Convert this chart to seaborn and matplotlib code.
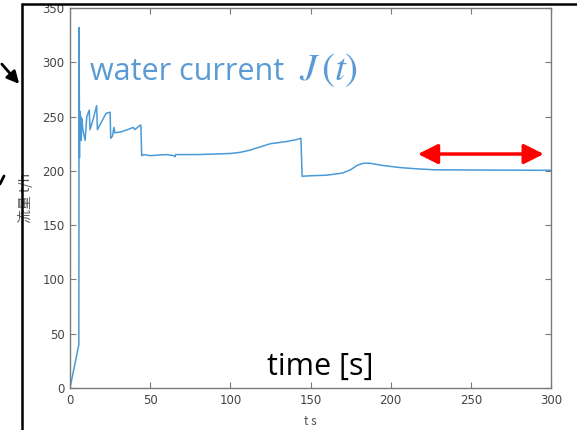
import matplotlib
matplotlib.use("Agg")
import matplotlib.pyplot as plt
from matplotlib.lines import Line2D
import seaborn as sns
import pandas as pd

# ---- data ----
time_s = [0, 5.5, 5.7, 5.9, 6.1, 6.4, 6.7, 7.0, 7.4, 8.0, 9.4, 10.5, 12.0, 12.5,
          14.5, 16.6, 17.1, 22.5, 25.0, 25.4, 26.5, 27.4, 28.0, 32, 36, 39.4,
          40.5, 43.7, 44.2, 44.7, 46, 50, 60, 65, 65.5, 66, 80, 90, 100, 106,
          112, 118.5, 125, 130, 135, 142, 144, 144.8, 150, 160, 170, 175, 179,
          183, 187, 195, 206, 215, 227, 250, 300]
flow_th = [0, 40, 332, 212, 255, 235, 250, 228, 248, 238, 228, 250, 256, 238,
           248, 260, 238, 253, 254, 230, 232, 240, 235, 236, 238, 240, 238, 242,
           242, 214, 215, 214, 215, 214, 213, 215, 215, 215.5, 216, 217, 219,
           222, 225, 226, 227, 229, 230, 195, 195.5, 196, 198, 201, 205, 207,
           207, 205, 203, 202, 201, 200.8, 200.5]
x_ticks = [0, 50, 100, 150, 200, 250, 300]
y_ticks = [0, 50, 100, 150, 200, 250, 300, 350]
steady_range = [217, 295.5]
steady_level = 215.5

df = pd.DataFrame({"t": time_s, "flow": flow_th})

sns.set_style("white")
plt.rcParams["font.family"] = ["DejaVu Sans"]
plt.rcParams["mathtext.fontset"] = "stix"

fig = plt.figure(figsize=(5.77, 4.30), dpi=100)
ax = fig.add_axes([70/577, 42/430, 481/577, 380/430])

sns.lineplot(data=df, x="t", y="flow", ax=ax, color="#4a9ad8", linewidth=1.1)

ax.set_xlim(0, 300)
ax.set_ylim(0, 350)
ax.set_xticks(x_ticks)
ax.set_yticks(y_ticks)
for s in ax.spines.values():
    s.set_visible(True)
    s.set_color("#7a7a7a")
    s.set_linewidth(1.0)
ax.tick_params(direction="in", length=4, width=0.8, color="#7a7a7a",
               labelsize=8.5, labelcolor="#444444", top=True, right=True,
               left=True, bottom=True, pad=4)

ax.set_xlabel("t s", fontsize=8.5, color="#555555",
              family=["Noto Sans CJK JP", "DejaVu Sans"])
ax.xaxis.set_label_coords(0.5, -0.071)
ax.set_ylabel("流量 t/h", fontsize=10, color="#555555",
              family=["Noto Sans CJK JP", "DejaVu Sans"])
ax.yaxis.set_label_coords(-0.077, 0.5)

# red double arrow (steady range)
ax.annotate("", xy=(steady_range[1], steady_level), xytext=(steady_range[0], steady_level),
            arrowprops=dict(arrowstyle="<|-|>", color="#ff0000", lw=2.5,
                            mutation_scale=30, shrinkA=0, shrinkB=0))

# overlay texts
fig.text(90/577, (430-80)/430, "water current", fontsize=22,
         color="#5b9bd5", family="Open Sans", va="baseline", ha="left")
fig.text(299/577, (430-80)/430, "$J\\,(t)$", fontsize=28,
         color="#5b9bd5", va="baseline", ha="left")
fig.text(267/577, (430-375)/430, "time [s]", fontsize=22,
         color="black", family="Open Sans", va="baseline", ha="left")

# black frame of the slide
fx = 22/577
fy = (430-4)/430
fig.add_artist(Line2D([fx, fx], [0, fy], transform=fig.transFigure,
                      color="black", lw=1.8))
fig.add_artist(Line2D([fx, 1], [fy, fy], transform=fig.transFigure,
                      color="black", lw=1.8))

# black arrows on the left
fig.patches.append(matplotlib.patches.FancyArrowPatch(
    (0/577, (430-62)/430), (21/577, (430-86)/430), transform=fig.transFigure,
    arrowstyle="-|>", mutation_scale=18, color="black", lw=2))
fig.add_artist(Line2D([4/577, 0], [(430-176)/430, (430-184)/430],
                      transform=fig.transFigure, color="black", lw=2))

fig.savefig("out.png", dpi=100)
